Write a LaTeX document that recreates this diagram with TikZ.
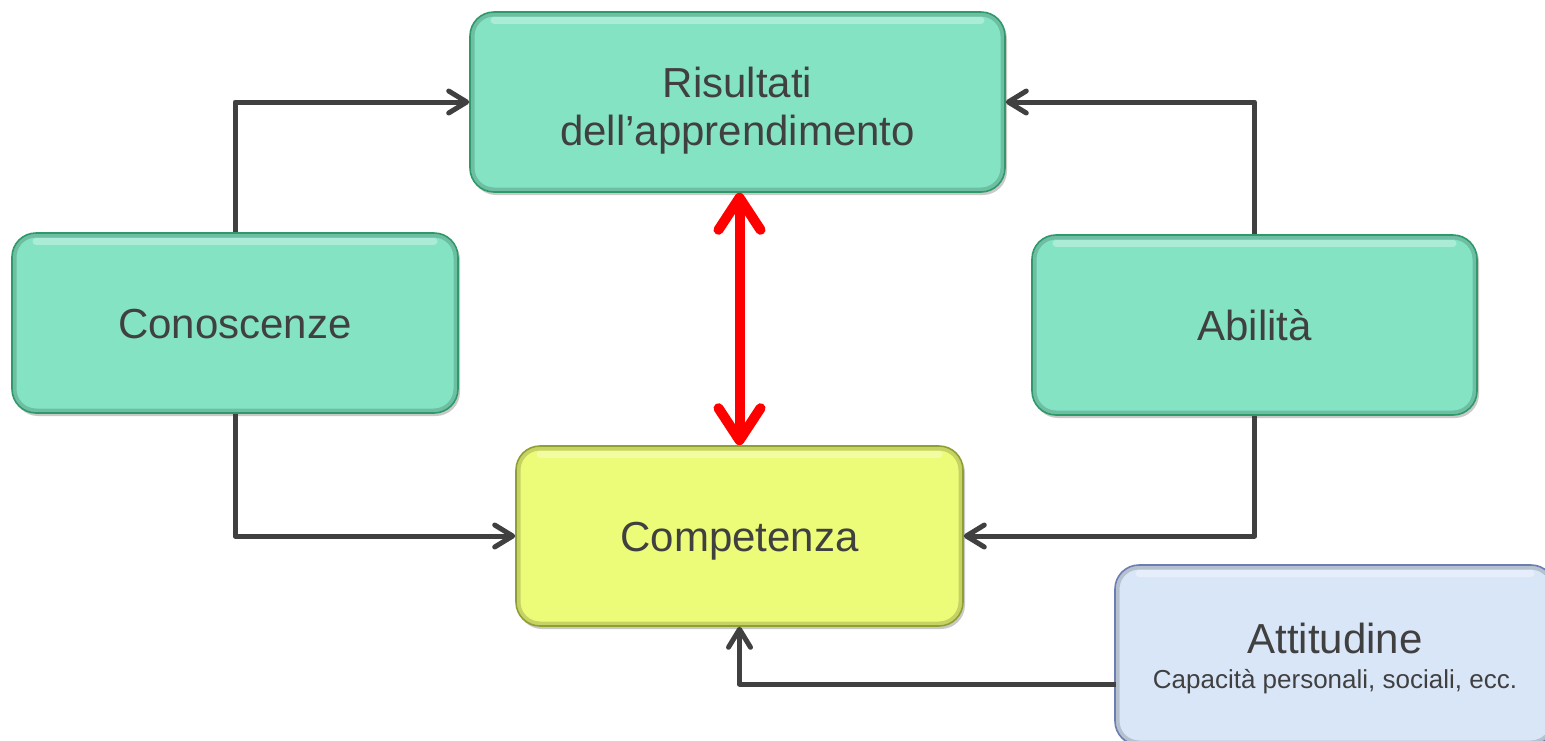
\documentclass[tikz,border=0pt]{standalone}
\usepackage{fontspec}
\setmainfont{Liberation Sans}
\usetikzlibrary{arrows.meta,shadows}
\definecolor{txt}{HTML}{404040}
\definecolor{tealfill}{HTML}{84E3C3}
\definecolor{tealedge}{HTML}{2E9A6A}
\definecolor{yelfill}{HTML}{ECFB78}
\definecolor{yeledge}{HTML}{8FA032}
\definecolor{bluefill}{HTML}{D9E6F8}
\definecolor{blueedge}{HTML}{6C7DB2}
\definecolor{conn}{HTML}{404040}
\definecolor{redarrow}{HTML}{FF0000}
\begin{document}
\begin{tikzpicture}[x=1pt,y=-1pt,
  box/.style={draw, line width=1.6pt, rounded corners=24pt, inner sep=0pt,
    text=txt, align=center, font=\fontsize{42}{48}\selectfont,
    text height=30pt, text depth=0pt,
    drop shadow={shadow xshift=2pt, shadow yshift=-3pt, fill=black!35, opacity=0.6},
    path picture={
      \draw[black, opacity=0.16, line width=9pt, rounded corners=24pt]
        (path picture bounding box.south west) rectangle (path picture bounding box.north east);
      \draw[white, opacity=0.32, line width=7pt, line cap=round]
        ([xshift=24pt,yshift=-8pt]path picture bounding box.north west) --
        ([xshift=-24pt,yshift=-8pt]path picture bounding box.north east);
    }},
  tealbox/.style={box, fill=tealfill, draw=tealedge},
  connector/.style={draw=conn, line width=5pt, line join=round,
    -{Straight Barb[length=18pt,width=22pt,round]}},
  redconn/.style={draw=redarrow, line width=10pt,
    {Straight Barb[length=32pt,width=42pt,round]}-{Straight Barb[length=32pt,width=42pt,round]}}
]
\useasboundingbox[fill=white] (0,0) rectangle (1545,740);
\node[tealbox, minimum width=535pt, minimum height=180pt, text height=86pt, text depth=0pt] (res) at (737.5,102)
  {Risultati\\dell’apprendimento};
\node[tealbox, minimum width=446pt, minimum height=180pt] (con) at (235,323) {Conoscenze};
\node[tealbox, minimum width=445pt, minimum height=180pt] (abi) at (1254.5,325) {Abilità};
\node[box, fill=yelfill, draw=yeledge, minimum width=447pt, minimum height=180pt] (comp) at (739.5,536) {Competenza};
\node[box, fill=bluefill, draw=blueedge, minimum width=440pt, minimum height=180pt, text height=66pt, text depth=0pt] (att) at (1335,655)
  {Attitudine\\[-13pt]{\fontsize{26}{30}\selectfont Capacità personali, sociali, ecc.}};
\coordinate (attin) at (1116,684);
\path[connector] (con.north) |- (res.west);
\path[connector] (abi.north) |- (res.east);
\path[connector] (con.south) |- (comp.west);
\path[connector] (abi.south) |- (comp.east);
\path[connector] (attin) -| (comp.south);
\path[redconn] (comp.north |- res.south) -- (comp.north);
\end{tikzpicture}
\end{document}
